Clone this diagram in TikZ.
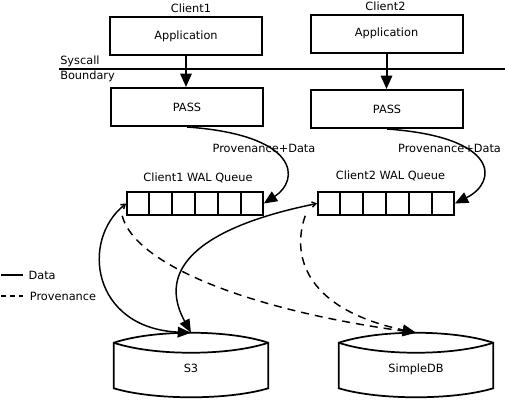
\documentclass[tikz,border=0pt]{standalone}
\usepackage{fontspec}
\setmainfont{DejaVu Sans}
\usepackage{tikz}
\usetikzlibrary{arrows.meta,positioning,calc}

\begin{document}
\begin{tikzpicture}[
      x=0.75pt, y=-0.75pt,
      font=\fontsize{8.5}{10}\selectfont,
      box/.style={rectangle, draw=black, line width=1.5pt, minimum width=114pt,
                  minimum height=28.5pt, inner sep=0pt},
      queue/.style={rectangle, draw=black, line width=1.2pt, minimum width=102pt,
                    minimum height=17.25pt, inner sep=0pt},
      drum/.style={rectangle, minimum width=115.5pt, minimum height=48pt,
                   inner sep=0pt, text height=11pt, text depth=0pt},
      txt/.style={inner sep=1.5pt},
      arr/.style={-{Triangle[length=10pt, width=8.5pt]}, line width=1.5pt},
      data/.style={{Straight Barb[length=3pt, width=4pt]}-{Triangle[length=10pt, width=8pt]},
                   line width=1.1pt},
      prov/.style={-{Triangle[length=10pt, width=8pt]}, line width=1.1pt,
                   dash pattern=on 6pt off 4.5pt}
    ]
    \useasboundingbox (0,0) rectangle (505,401);
    % clients
    \node[box] (app1) at (186,36) {Application};
    \node[box] (app2) at (386.5,33.5) {Application};
    \node[txt] (cl1) at (191,8) {Client1};
    \node[txt] (cl2) at (385.5,6) {Client2};
    % syscall boundary
    \coordinate (sysl) at (59,69);
    \coordinate (sysr) at (505,69);
    \draw[line width=1.3pt] (sysl) -- (sysr);
    \node[txt, anchor=west] (sysa) at (58,61) {Syscall};
    \node[txt, anchor=west] (sysb) at (58,76) {Boundary};
    % PASS
    \node[box] (pass1) at (187,107) {PASS};
    \node[box] (pass2) at (387,109) {PASS};
    \draw[arr] (app1.south) -- (app1.south |- pass1.north);
    \draw[arr] (app2.south) -- (app2.south |- pass2.north);
    % WAL queues
    \node[queue] (q1) at (195,203.5) {};
    \node[queue] (q2) at (386,203.5) {};
    \foreach \q in {q1,q2}
      \foreach \i in {1,...,5}
        \draw[line width=1.2pt] ($(\q.north west)!\i/6!(\q.north east)$)
          -- ($(\q.south west)!\i/6!(\q.south east)$);
    \node[txt] (ql1) at (198,178) {Client1 WAL Queue};
    \node[txt] (ql2) at (390.5,176) {Client2 WAL Queue};
    \node[txt] (pd1) at (264,148) {Provenance+Data};
    \node[txt] (pd2) at (449.5,148) {Provenance+Data};
    \draw[arr, line width=1.1pt] (pass1.south) .. controls (300,135) and (300,180) .. (q1.east);
    \draw[arr, line width=1.1pt] (pass2.south) .. controls (500,137) and (498,182) .. (q2.east);
    % stores
    \node[drum] (s3) at (191,365) {S3};
    \node[drum] (sdb) at (416,365) {SimpleDB};
    \foreach \n in {s3,sdb} {
      \draw[line width=1.3pt]
        ([yshift=-7.5pt]\n.north west) .. controls ([xshift=30pt,yshift=2.5pt]\n.north west)
          and ([xshift=-30pt,yshift=2.5pt]\n.north east) .. ([yshift=-7.5pt]\n.north east)
        -- ([yshift=6.75pt]\n.south east) .. controls ([xshift=-30pt,yshift=-2.25pt]\n.south east)
          and ([xshift=30pt,yshift=-2.25pt]\n.south west) .. ([yshift=6.75pt]\n.south west)
        -- cycle;
      \draw[line width=1.3pt]
        ([yshift=-7.5pt]\n.north west) .. controls ([xshift=30pt,yshift=-17.5pt]\n.north west)
          and ([xshift=-30pt,yshift=-17.5pt]\n.north east) .. ([yshift=-7.5pt]\n.north east);
    }
    % flows
    \draw[data] (q1.west) .. controls (80,240) and (92,328) .. (s3.north);
    \draw[data] (q2.west) .. controls (225,222) and (150,258) .. (s3.north);
    \draw[prov] ([xshift=-3pt]q1.south west) .. controls (135,265) and (250,310) .. (sdb.north);
    \draw[prov] ([xshift=-9pt]q2.south west) .. controls (290,260) and (310,310) .. (sdb.north);
    % legend
    \coordinate (ld) at (1,275);
    \coordinate (lp) at (1,296);
    \node[txt, anchor=west, inner xsep=4pt] (ldata) at (23,275) {Data};
    \node[txt, anchor=west, inner xsep=5pt] (lprov) at (23,296) {Provenance};
    \draw[line width=1.3pt] (ld) -- (ldata.west);
    \draw[line width=1.1pt, dash pattern=on 3.75pt off 3pt] (lp) -- (lprov.west);
  \end{tikzpicture}
\end{document}
